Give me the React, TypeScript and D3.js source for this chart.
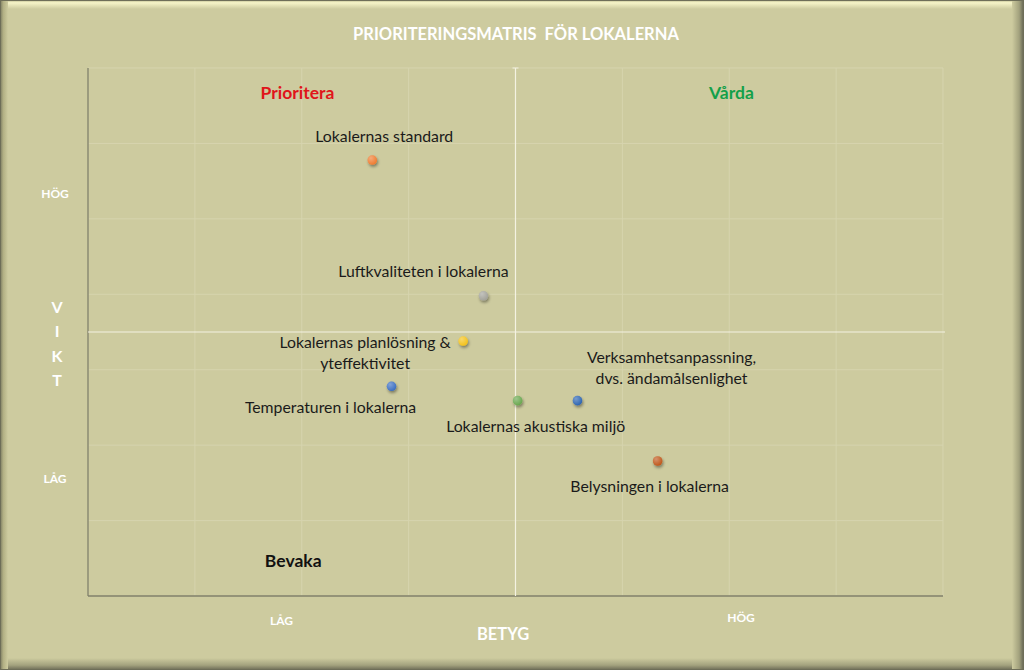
import React from "react";
import * as d3 from "d3";

const categories = [
  "Lokalernas standard",
  "Luftkvaliteten i lokalerna",
  "Lokalernas planlösning &|yteffektivitet",
  "Temperaturen i lokalerna",
  "Lokalernas akustiska miljö",
  "Verksamhetsanpassning,|dvs. ändamålsenlighet",
  "Belysningen i lokalerna",
];
const betyg = [2.66, 3.7, 3.51, 2.84, 4.02, 4.58, 5.33];
const vikt = [5.78, 3.98, 3.38, 2.78, 2.59, 2.59, 1.79];
const pointColors = ["#ef7d32", "#a3a39a", "#f3c21b", "#3c6fc2", "#6aa84f", "#2f66b2", "#c0581c"];

// label layout (pixel offsets of label from its point)
const labelDx = [12, -60, -98, -61, 18, 94, -8];
const labelDy = [-18, -19, 7, 27, 31, -38, 31];

const xDomain = [0, 8];
const yDomain = [0, 7];
const xCross = 4;
const yCross = 3.5;
const xAxisLabels = [
  { text: "LÅG", value: 1.81 },
  { text: "HÖG", value: 6.11 },
];
const yAxisLabels = [
  { text: "HÖG", value: 5.33 },
  { text: "LÅG", value: 1.55 },
];
const quadrants = [
  { text: "Prioritera", x: 1.96, y: 6.67, color: "#e0151a" },
  { text: "Vårda", x: 6.02, y: 6.67, color: "#13a04a" },
  { text: "Bevaka", x: 1.92, y: 0.47, color: "#111111" },
];

const W = 1024;
const H = 670;
const left = 88, right = 943, top = 68, bottom = 596;

export default function App() {
  const x = d3.scaleLinear().domain(xDomain).range([left, right]);
  const y = d3.scaleLinear().domain(yDomain).range([bottom, top]);
  const xTicks = d3.range(xDomain[0], xDomain[1] + 1, 1);
  const yTicks = d3.range(yDomain[0], yDomain[1] + 1, 1);
  const font = "Lato, 'Open Sans', sans-serif";

  return (
    <svg width={W} height={H} style={{ position: "absolute", left: 0, top: 0 }} fontFamily={font}>
      <defs>
        <linearGradient id="topBevel" x1="0" y1="0" x2="0" y2="1">
          <stop offset="0" stopColor="#b9b88c" />
          <stop offset="0.3" stopColor="#f6f4c8" />
          <stop offset="1" stopColor="#cdcb9f" />
        </linearGradient>
        <linearGradient id="botBevel" x1="0" y1="0" x2="0" y2="1">
          <stop offset="0" stopColor="#cdcb9f" />
          <stop offset="0.6" stopColor="#a3a27e" />
          <stop offset="1" stopColor="#6a6a55" />
        </linearGradient>
        <linearGradient id="leftBevel" x1="0" y1="0" x2="1" y2="0">
          <stop offset="0" stopColor="#77775e" />
          <stop offset="0.4" stopColor="#b1af83" />
          <stop offset="1" stopColor="#cdcb9f" />
        </linearGradient>
        <linearGradient id="rightBevel" x1="0" y1="0" x2="1" y2="0">
          <stop offset="0" stopColor="#cdcb9f" />
          <stop offset="0.6" stopColor="#a2a17d" />
          <stop offset="1" stopColor="#5f5f50" />
        </linearGradient>
        <filter id="shadow" x="-50%" y="-50%" width="200%" height="200%">
          <feGaussianBlur in="SourceAlpha" stdDeviation="1.5" />
          <feOffset dx="1" dy="1.5" result="b" />
          <feComponentTransfer><feFuncA type="linear" slope="0.4" /></feComponentTransfer>
          <feMerge>
            <feMergeNode />
            <feMergeNode in="SourceGraphic" />
          </feMerge>
        </filter>
        <radialGradient id="dotShine" cx="0.35" cy="0.3" r="0.7">
          <stop offset="0" stopColor="#ffffff" stopOpacity="0.35" />
          <stop offset="1" stopColor="#ffffff" stopOpacity="0" />
        </radialGradient>
      </defs>

      {/* frame */}
      <rect x={0} y={0} width={W} height={H} fill="#cdcb9f" />
      <rect x={0} y={0} width={W} height={9} fill="url(#topBevel)" />
      <rect x={0} y={H - 12} width={W} height={12} fill="url(#botBevel)" />
      <rect x={0} y={0} width={8} height={H} fill="url(#leftBevel)" />
      <rect x={W - 12} y={0} width={12} height={H} fill="url(#rightBevel)" />
      <rect x={0.5} y={0.5} width={W - 1} height={H - 1} fill="none" stroke="#6e6e58" />

      {/* title */}
      <text x={516} y={40} textAnchor="middle" fill="#ffffff" fontWeight="bold" fontSize={16.5} style={{ whiteSpace: "pre" }}>
        {"PRIORITERINGSMATRIS\u00a0 FÖR LOKALERNA"}
      </text>

      {/* gridlines */}
      {xTicks.map((t) => (
        <line key={"gx" + t} x1={x(t)} x2={x(t)} y1={top} y2={bottom} stroke="#d6d4ae" strokeWidth={1} />
      ))}
      {yTicks.map((t) => (
        <line key={"gy" + t} x1={left} x2={right} y1={y(t)} y2={y(t)} stroke="#d6d4ae" strokeWidth={1} />
      ))}

      {/* axes */}
      <line x1={left} x2={left} y1={top} y2={bottom} stroke="#7f7f68" strokeWidth={1.3} />
      <line x1={left} x2={right} y1={bottom} y2={bottom} stroke="#7f7f68" strokeWidth={1.3} />

      {/* crossing lines */}
      <line x1={left} x2={right + 2} y1={y(yCross)} y2={y(yCross)} stroke="#f4f2e2" strokeWidth={1.2} />
      <line x1={x(xCross)} x2={x(xCross)} y1={top} y2={bottom} stroke="#f4f2e2" strokeWidth={1.2} />
      <line x1={x(xCross) - 3} x2={x(xCross) + 3} y1={top} y2={top} stroke="#f4f2e2" strokeWidth={1} />

      {/* quadrant labels */}
      {quadrants.map((q) => (
        <text key={q.text} x={x(q.x)} y={y(q.y) + 6} textAnchor="middle" fill={q.color} fontWeight="bold" fontSize={17.5}>
          {q.text}
        </text>
      ))}

      {/* axis labels */}
      {yAxisLabels.map((l) => (
        <text key={"yl" + l.text} x={55} y={y(l.value) + 4} textAnchor="middle" fill="#ffffff" fontWeight="bold" fontSize={12}>
          {l.text}
        </text>
      ))}
      {xAxisLabels.map((l, i) => (
        <text key={"xl" + l.text} x={x(l.value)} y={i === 0 ? 625 : 622} textAnchor="middle" fill="#ffffff" fontWeight="bold" fontSize={12}>
          {l.text}
        </text>
      ))}
      <text x={503} y={640} textAnchor="middle" fill="#ffffff" fontWeight="bold" fontSize={16.5}>
        BETYG
      </text>
      {["V", "I", "K", "T"].map((c, i) => (
        <text key={"v" + i} x={57} y={313 + i * 24.3} textAnchor="middle" fill="#ffffff" fontWeight="bold" fontSize={16}>
          {c}
        </text>
      ))}

      {/* points */}
      {categories.map((c, i) => {
        const px = x(betyg[i]);
        const py = y(vikt[i]);
        const lines = c.split("|");
        return (
          <g key={c}>
            <circle cx={px} cy={py} r={4.8} fill={pointColors[i]} filter="url(#shadow)" />
            <circle cx={px} cy={py} r={4.8} fill="url(#dotShine)" />
            {lines.map((ln, j) => (
              <text
                key={j}
                x={px + labelDx[i]}
                y={py + labelDy[i] + j * 21}
                textAnchor="middle"
                fill="#1a1a1a"
                fontSize={15.8}
              >
                {ln}
              </text>
            ))}
          </g>
        );
      })}
    </svg>
  );
}
